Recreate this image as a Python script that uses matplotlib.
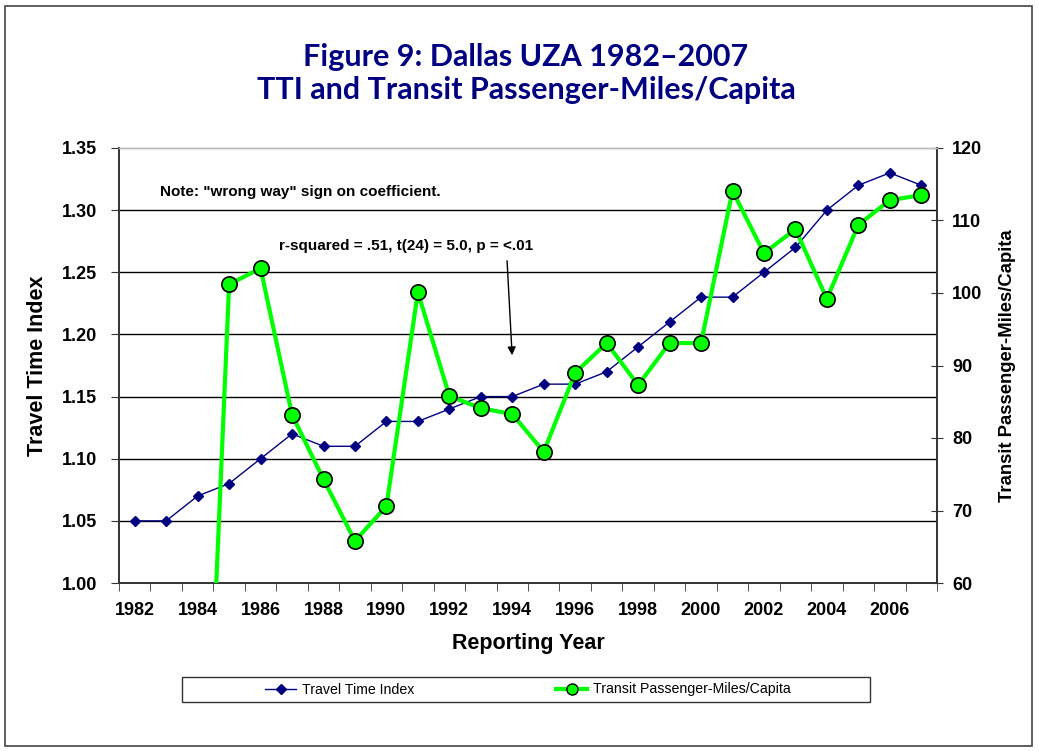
import matplotlib
matplotlib.use("Agg")
import matplotlib.pyplot as plt
import numpy as np
from matplotlib.patches import Rectangle
from matplotlib.lines import Line2D

years = list(range(1982, 2008))
tti = [1.05, 1.05, 1.07, 1.08, 1.10, 1.12, 1.11, 1.11, 1.13, 1.13, 1.14, 1.15, 1.15,
       1.16, 1.16, 1.17, 1.19, 1.21, 1.23, 1.23, 1.25, 1.27, 1.30, 1.32, 1.33, 1.32]
transit = [np.nan, np.nan, 0.0, 101.2, 103.4, 83.2, 74.3, 65.8, 70.6, 100.1, 85.8, 84.1, 83.3,
           78.1, 89.0, 93.1, 87.3, 93.1, 93.1, 114.1, 105.5, 108.8, 99.2, 109.4, 112.8, 113.5]
left_ticks = [1.00, 1.05, 1.10, 1.15, 1.20, 1.25, 1.30, 1.35]
right_ticks = [60, 70, 80, 90, 100, 110, 120]
year_labels = list(range(1982, 2008, 2))

W, H = 1039, 751
fig = plt.figure(figsize=(W / 100, H / 100), dpi=100)
fig.patch.set_facecolor("white")

# outer frame
fig.patches.append(Rectangle((5 / W, 1 - 746 / H), 1027 / W, 740 / H, transform=fig.transFigure,
                             fill=False, edgecolor="#444444", linewidth=1.2))

ax = fig.add_axes([119 / W, 1 - 583 / H, 818 / W, 435 / H])
ax2 = ax.twinx()

ax.set_xlim(1981.5, 2007.5)
ax.set_ylim(1.00, 1.35)
ax2.set_ylim(60, 120)

FONT = "Liberation Sans"
navy = "#000080"

ax.set_yticks(left_ticks)
ax.set_yticklabels([f"{v:.2f}" for v in left_ticks], fontfamily=FONT, fontweight="bold", fontsize=13)
ax2.set_yticks(right_ticks)
ax2.set_yticklabels([str(v) for v in right_ticks], fontfamily=FONT, fontweight="bold", fontsize=13)
ax.set_xticks(year_labels)
ax.set_xticklabels([str(y) for y in year_labels], fontfamily=FONT, fontweight="bold", fontsize=13)
ax.set_xticks(np.arange(1981.5, 2008, 1.0), minor=True)
ax.tick_params(axis="x", which="major", length=0, pad=14)
ax.tick_params(axis="x", which="minor", length=6, direction="out", color="#333333")
ax.tick_params(axis="y", length=6, direction="out", color="#333333", pad=10)
ax2.tick_params(axis="y", length=8, direction="inout", color="#333333", pad=7)

for y in left_ticks[1:-1]:
    ax.axhline(y, color="black", linewidth=1.0, zorder=0)

for a in (ax, ax2):
    for s in ("left", "right", "bottom"):
        a.spines[s].set_color("#333333")
        a.spines[s].set_linewidth(1.2)
    a.spines["top"].set_color("#bbbbbb")
    a.spines["top"].set_linewidth(1.0)

ax.plot(years, tti, color=navy, linewidth=1.0, marker="D", markersize=5,
        markerfacecolor=navy, markeredgecolor=navy, zorder=3)
ax2.plot(years, transit, color="#00ff00", linewidth=3.0, marker="o", markersize=11,
         markerfacecolor="#00ff00", markeredgecolor="black", markeredgewidth=1.2, zorder=4)
ax.set_zorder(0)
ax2.set_zorder(1)
ax2.patch.set_visible(False)

ax.set_ylabel("Travel Time Index", fontfamily=FONT, fontweight="bold", fontsize=15.5, labelpad=10)
ax.set_xlabel("Reporting Year", fontfamily=FONT, fontweight="bold", fontsize=15.5, labelpad=10)
ax2.set_ylabel("Transit Passenger-Miles/Capita", fontfamily=FONT, fontweight="bold", fontsize=13.3, labelpad=12)

ax.text(1982.8, 1.3146, 'Note: "wrong way" sign on coefficient.', fontfamily=FONT, fontweight="bold",
        fontsize=11, va="center", ha="left")
ax.text(1986.6, 1.271, "r-squared = .51, t(24) = 5.0, p = <.01", fontfamily=FONT, fontweight="bold",
        fontsize=11, va="center", ha="left")
ax.annotate("", xy=(1994.0, 1.181), xytext=(1993.83, 1.2615),
            arrowprops=dict(arrowstyle="-|>", color="black", linewidth=1.0, mutation_scale=12))

fig.text(526 / W, 1 - 57 / H, "Figure 9: Dallas UZA 1982–2007", ha="center", va="center",
         fontfamily="Lato", fontweight="bold", fontsize=22, color=navy)
fig.text(526 / W, 1 - 90 / H, "TTI and Transit Passenger-Miles/Capita", ha="center", va="center",
         fontfamily="Lato", fontweight="bold", fontsize=22, color=navy)

# legend frame
fig.patches.append(Rectangle((182 / W, 1 - 702 / H), 688 / W, 25 / H, transform=fig.transFigure,
                             fill=False, edgecolor="#333333", linewidth=1.0))
h1 = Line2D([], [], color=navy, linewidth=1.0, marker="D", markersize=5, markerfacecolor=navy)
h2 = Line2D([], [], color="#00ff00", linewidth=3.0, marker="o", markersize=8,
            markerfacecolor="#00ff00", markeredgecolor="black")
fig.legend([h1, h2], ["Travel Time Index", "Transit Passenger-Miles/Capita"], loc="center",
           bbox_to_anchor=(528 / W, 1 - 689.5 / H), ncol=2, frameon=False,
           prop={"family": FONT, "size": 10.2}, columnspacing=10.0, handlelength=2.2, handletextpad=0.4)

fig.savefig("out.png", dpi=100, facecolor="white")
